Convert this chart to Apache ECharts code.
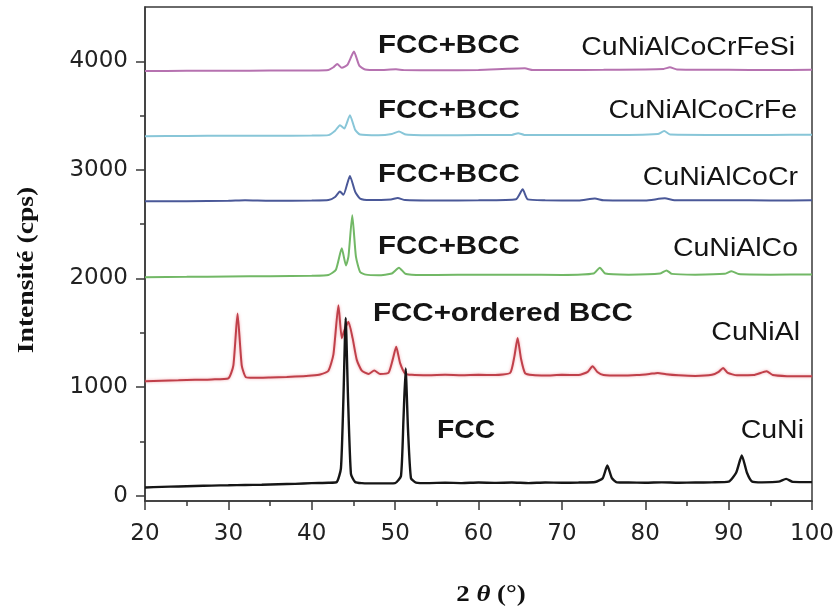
<!DOCTYPE html>
<html>
<head>
<meta charset="utf-8">
<script src="https://cdn.jsdelivr.net/npm/echarts@6/dist/echarts.min.js"></script>
<style>html,body{margin:0;padding:0;background:#fff;}#c{width:838px;height:610px;}</style>
</head>
<body>
<div id="c"></div>
<script>
// ---- data: [2theta, intensity (cps)] ----
const cuNi = [[20,75],[22,80],[24,84],[26,88],[28,92],[30,95],[32,98],[34,100],[36,104],[38,108],[40,115],[42,118],[43,125],[43.5,250],[43.8,900],[44.07,1637],[44.35,900],[44.7,200],[45.2,125],[46,115],[48,112],[50,115],[50.7,180],[51.0,700],[51.26,1170],[51.55,600],[51.9,160],[52.5,120],[54,115],[56,118],[58,115],[60,120],[62,117],[64,120],[66,115],[68,120],[70,118],[72,120],[74,125],[74.9,160],[75.45,277],[76,160],[76.6,122],[78,120],[80,118],[82,122],[84,118],[86,120],[88,122],[90,128],[90.9,210],[91.58,369],[92.2,210],[92.8,130],[94,122],[96,128],[96.9,154],[97.7,126],[100,124]];
const cuNiAl = [[20,1052],[22,1058],[24,1062],[26,1066],[28,1070],[30,1080],[30.6,1200],[31.1,1677],[31.6,1200],[32.1,1090],[33,1085],[35,1088],[37,1092],[39,1100],[40,1105],[41,1115],[42,1150],[42.6,1300],[43.2,1753],[43.6,1450],[43.9,1520],[44.4,1600],[44.9,1450],[45.4,1250],[46,1150],[46.8,1120],[47.5,1151],[48.2,1120],[49.2,1130],[49.7,1250],[50.13,1370],[50.6,1220],[51.2,1125],[52,1112],[54,1108],[56,1112],[58,1108],[60,1112],[62,1110],[63.8,1130],[64.3,1280],[64.69,1452],[65.1,1260],[65.6,1125],[66.5,1110],[68,1106],[70,1112],[72,1110],[73.1,1140],[73.68,1191],[74.3,1135],[75,1110],[77,1105],[79,1110],[80.5,1120],[81.5,1130],[82.5,1118],[84,1108],[86,1102],[88,1112],[88.8,1140],[89.34,1176],[89.9,1130],[91,1108],[93,1110],[94.55,1145],[95.3,1110],[97,1100],[100,1098]];
const cuNiAlCo = [[20,2012],[25,2015],[30,2018],[35,2020],[40,2025],[42,2032],[42.9,2080],[43.6,2277],[44.1,2120],[44.4,2200],[44.86,2581],[45.3,2200],[45.8,2060],[46.5,2035],[48,2030],[49.6,2045],[50.46,2099],[51.2,2045],[52,2035],[55,2032],[60,2035],[65,2035],[70,2032],[73.8,2045],[74.56,2099],[75.2,2045],[78,2035],[81.8,2045],[82.55,2074],[83.2,2042],[86,2035],[89.5,2042],[90.35,2067],[91.2,2040],[95,2035],[100,2037]];
const cuNiAlCoCr = [[20,2710],[25,2712],[30,2715],[32,2720],[35,2715],[40,2718],[42,2722],[42.8,2750],[43.38,2800],[43.8,2770],[44.58,2944],[45.2,2800],[45.8,2735],[47,2722],[49.5,2728],[50.3,2740],[51.2,2722],[55,2718],[60,2720],[64.5,2730],[65.3,2821],[65.9,2728],[68,2720],[72,2718],[73.96,2736],[75,2720],[80,2718],[82.35,2738],[83.5,2720],[90,2720],[95,2718],[100,2720]];
const cuNiAlCoCrFe = [[20,3310],[25,3312],[30,3315],[35,3314],[40,3316],[42,3320],[42.8,3360],[43.38,3412],[43.9,3380],[44.58,3504],[45.2,3370],[45.8,3325],[48,3318],[49.6,3330],[50.46,3354],[51.3,3325],[55,3318],[60,3320],[64,3322],[64.76,3338],[65.5,3322],[70,3320],[75,3320],[81.5,3330],[82.27,3357],[83,3326],[90,3322],[95,3322],[100,3323]];
const cuNiAlCoCrFeSi = [[20,3910],[25,3912],[30,3912],[35,3914],[40,3915],[42,3920],[42.6,3945],[43.06,3975],[43.6,3940],[44.3,3970],[45.06,4089],[45.7,3960],[46.4,3925],[48,3920],[50.1,3926],[51,3920],[55,3918],[60,3920],[65.56,3935],[66.5,3920],[70,3920],[75,3922],[82.2,3930],[82.95,3945],[83.8,3925],[90,3922],[95,3920],[100,3922]];

const yMajorTicks = [0, 1000, 2000, 3000, 4000];
const yMinorTicks = [500, 1500, 2500, 3500];
const seriesNames = ['CuNiAlCoCrFeSi','CuNiAlCoCrFe','CuNiAlCoCr','CuNiAlCo','CuNiAl','CuNi'];
const phaseLabels = ['FCC+BCC','FCC+BCC','FCC+BCC','FCC+BCC','FCC+ordered BCC','FCC'];

const chart = echarts.init(document.getElementById('c'));
const axisColor = '#3a3a3a';
const tickFont = {fontSize:23, fontFamily:'DejaVu Sans', color:'#222', formatter:function(v){return String(v);}};

function mkSeries(name, data, color, width, extra) {
  return Object.assign({
    name, type:'line', data, showSymbol:false, smooth:0.18,
    lineStyle:{color, width}, itemStyle:{color}, silent:true, animation:false
  }, extra || {});
}

const labelFontB = 'bold 25px "Liberation Sans", Arial, sans-serif';
const labelFontR = '25px "Liberation Sans", Arial, sans-serif';
function txt(x, y, text, font, align, sx) {
  return {type:'text', x, y, scaleX:sx, style:{text, x:0, y:0, font, fill:'#141414', textAlign:align, textVerticalAlign:'middle'}};
}

chart.setOption({
  animation:false,
  backgroundColor:'#fff',
  grid:{left:145, right:26, top:7, bottom:109, show:true, borderColor:axisColor, borderWidth:1.5, backgroundColor:'transparent'},
  xAxis:{
    type:'value', min:20, max:100, interval:10,
    axisLine:{show:true, onZero:false, lineStyle:{color:axisColor, width:1.5}},
    axisTick:{show:true, length:9, lineStyle:{color:axisColor, width:1.5}},
    minorTick:{show:true, splitNumber:2, length:5, lineStyle:{color:axisColor, width:1.5}},
    axisLabel:Object.assign({margin:22}, tickFont),
    splitLine:{show:false}
  },
  yAxis:[{
    type:'value', min:-50, max:4500,
    axisLine:{show:true, onZero:false, lineStyle:{color:axisColor, width:1.5}},
    axisTick:{show:true, customValues:yMajorTicks, length:9, lineStyle:{color:axisColor, width:1.5}},
    axisLabel:Object.assign({customValues:yMajorTicks, margin:17}, tickFont),
    splitLine:{show:false}
  },{
    type:'value', min:-50, max:4500, position:'left',
    axisLine:{show:false},
    axisTick:{show:true, customValues:yMinorTicks, length:5, lineStyle:{color:axisColor, width:1.5}},
    axisLabel:{show:false},
    splitLine:{show:false}
  }],
  series:[
    mkSeries(seriesNames[0], cuNiAlCoCrFeSi, '#b672b0', 2),
    mkSeries(seriesNames[1], cuNiAlCoCrFe, '#88c6d8', 2),
    mkSeries(seriesNames[2], cuNiAlCoCr, '#4a5898', 2),
    mkSeries(seriesNames[3], cuNiAlCo, '#72b866', 2),
    mkSeries(seriesNames[4], cuNiAl, '#c0404a', 2, {lineStyle:{color:'#c0404a', width:2, shadowBlur:3, shadowColor:'rgba(235,130,140,0.7)'}}),
    mkSeries(seriesNames[5], cuNi, '#161616', 2.4)
  ],
  graphic:[
    txt(378, 46, phaseLabels[0], labelFontB, 'left', 1.18),
    txt(378, 111, phaseLabels[1], labelFontB, 'left', 1.18),
    txt(378, 175, phaseLabels[2], labelFontB, 'left', 1.18),
    txt(378, 247, phaseLabels[3], labelFontB, 'left', 1.18),
    txt(373, 314, phaseLabels[4], labelFontB, 'left', 1.18),
    txt(437, 431, phaseLabels[5], labelFontB, 'left', 1.13),
    txt(795, 48, seriesNames[0], labelFontR, 'right', 1.14),
    txt(797, 111, seriesNames[1], labelFontR, 'right', 1.14),
    txt(798, 178, seriesNames[2], labelFontR, 'right', 1.14),
    txt(798, 249, seriesNames[3], labelFontR, 'right', 1.14),
    txt(800, 333, seriesNames[4], labelFontR, 'right', 1.14),
    txt(804, 431, seriesNames[5], labelFontR, 'right', 1.14),
    {type:'text', x:27, y:270, rotation:Math.PI/2, scaleX:1.15,
     style:{text:'Intensité (cps)', x:0, y:0, font:'bold 24px "Liberation Serif", "Times New Roman", serif', fill:'#111', textAlign:'center', textVerticalAlign:'middle'}},
    {type:'text', x:491, y:595, scaleX:1.12,
     style:{text:'{a|2 }{b|θ}{a| (°)}', x:0, y:0, fill:'#111', textAlign:'center', textVerticalAlign:'middle',
       rich:{a:{font:'bold 24px "Liberation Serif", "Times New Roman", serif', fill:'#111'},
             b:{font:'italic bold 24px "Liberation Serif", "Times New Roman", serif', fill:'#111'}}}}
  ]
});
</script>
</body>
</html>
